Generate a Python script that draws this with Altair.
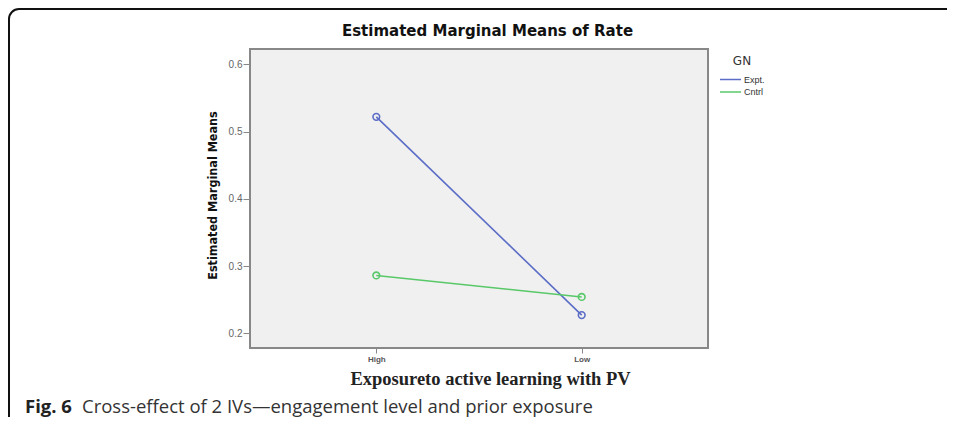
import altair as alt
import pandas as pd
import math

# ---- data ----
exposure = ["High", "Low"]
groups = ["Expt.", "Cntrl"]
expt_means = [0.522, 0.227]
cntrl_means = [0.286, 0.254]
y_ticks = [0.2, 0.3, 0.4, 0.5, 0.6]
colors = ["#5b6dc6", "#58c868"]

chart_title = ["Estimated Marginal Means of Rate"]
y_title = "Estimated Marginal Means"
x_title = "Exposureto active learning with PV"
caption_bold = ["Fig. 6"]
caption_text = ["Cross-effect of 2 IVs\u2014engagement level and prior exposure"]

rows = []
for e, v in zip(exposure, expt_means):
    rows.append({"Exposure": e, "GN": groups[0], "Mean": v})
for e, v in zip(exposure, cntrl_means):
    rows.append({"Exposure": e, "GN": groups[1], "Mean": v})
df = pd.DataFrame(rows)

x_enc = alt.X(
    "Exposure:N",
    sort=exposure,
    scale=alt.Scale(type="point", padding=0.615),
    axis=alt.Axis(
        title=x_title, labelAngle=0, domain=False, ticks=True, tickSize=5,
        tickColor="#888888", labelColor="#555555", labelFontSize=8,
        labelFont="Liberation Sans", labelFontWeight="bold", labelPadding=2,
        titleFont="Liberation Serif", titleFontSize=18.5, titleFontWeight="bold",
        titleColor="#222222", titleX=240, titleY=30, titleBaseline="middle",
        titleAlign="center",
    ),
)
y_enc = alt.Y(
    "Mean:Q",
    scale=alt.Scale(domain=[0.178, 0.623], nice=False, zero=False),
    axis=alt.Axis(
        title=y_title, values=y_ticks, format=".1f", grid=False, domain=False,
        tickSize=7, tickColor="#888888", labelColor="#666666", labelFontSize=10,
        labelFont="Liberation Sans", labelPadding=1,
        titleFont="DejaVu Sans Condensed", titleFontSize=12.5, titleFontWeight="bold",
        titleColor="#111111", titleX=-38, titleY=146, titleAngle=270,
        titleAlign="center", titleBaseline="middle",
    ),
)
color_enc = alt.Color(
    "GN:N",
    scale=alt.Scale(domain=groups, range=colors),
    legend=alt.Legend(
        title="GN", orient="none", legendX=469, legendY=7,
        symbolType="M-1,0H5", symbolSize=49, symbolStrokeWidth=1.5,
        titleFont="DejaVu Sans", titleFontSize=12, titleFontWeight="normal",
        titleColor="#333333", titleAnchor="middle", titlePadding=7,
        labelFont="Liberation Sans", labelFontSize=9, labelColor="#333333",
        labelOffset=16, rowPadding=2.5,
    ),
)

lines = alt.Chart(df).mark_line(strokeWidth=1.6).encode(
    x=x_enc, y=y_enc, color=color_enc, detail="GN:N"
)
points = alt.Chart(df).mark_point(
    shape="circle", filled=False, size=45, strokeWidth=1.6, opacity=1
).encode(
    x=x_enc, y=y_enc,
    color=alt.Color("GN:N", scale=alt.Scale(domain=groups, range=colors), legend=None),
)

title_df = pd.DataFrame({"t": chart_title})
title_mark = alt.Chart(title_df).mark_text(
    align="center", baseline="middle", font="DejaVu Sans", fontSize=15,
    fontWeight="bold", color="#111111"
).encode(text="t:N", x=alt.value(237.5), y=alt.value(-18))

cap_df = pd.DataFrame({"bold": caption_bold, "text": caption_text})
cap_bold = alt.Chart(cap_df).mark_text(
    align="left", baseline="middle", font="Open Sans", fontSize=18.5,
    fontWeight="bold", color="#222222"
).encode(text="bold:N", x=alt.value(-225), y=alt.value(358))
cap_rest = alt.Chart(cap_df).mark_text(
    align="left", baseline="middle", font="Open Sans", fontSize=18.5,
    color="#333333"
).encode(text="text:N", x=alt.value(-168), y=alt.value(358))

# figure frame: top edge, left edge and rounded top-left corner
top_edge = alt.Chart(cap_df).mark_rule(stroke="#111111", strokeWidth=2).encode(
    x=alt.value(-231), x2=alt.value(1200), y=alt.value(-40)
)
left_edge = alt.Chart(cap_df).mark_rule(stroke="#111111", strokeWidth=2).encode(
    x=alt.value(-241), y=alt.value(-30), y2=alt.value(600)
)
corner = alt.Chart(cap_df).mark_arc(
    fill="#111111", radius=11, radius2=9, theta=1.5 * math.pi, theta2=2 * math.pi
).encode(x=alt.value(-231), y=alt.value(-30))

chart = alt.layer(
    top_edge, left_edge, corner, lines, points, title_mark, cap_bold, cap_rest
).properties(
    width=458,
    height=299,
    autosize=alt.AutoSizeParams(type="none"),
    padding={"left": 242, "top": 41, "right": 239, "bottom": 69},
).configure(
    background="white",
    view=alt.ViewConfig(fill="#f0f0f0", stroke="#888888", strokeWidth=2),
)

chart.save("out.html", embed_options={"renderer": "svg", "actions": False})
